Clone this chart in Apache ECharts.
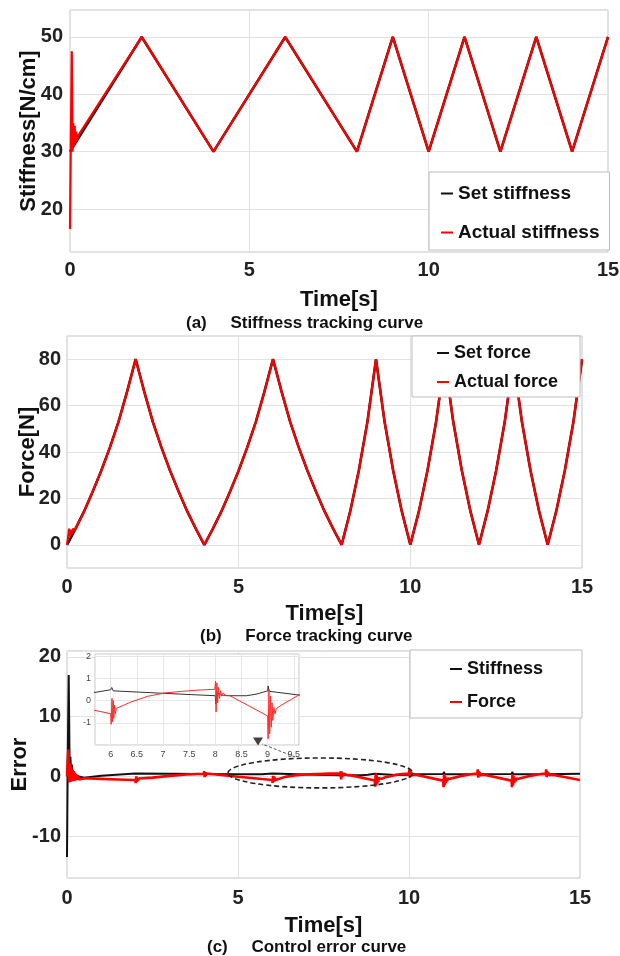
<!DOCTYPE html>
<html><head><meta charset="utf-8">
<script src="https://cdn.jsdelivr.net/npm/echarts@6/dist/echarts.min.js"></script>
<style>html,body{margin:0;padding:0;background:#fff}#c{width:620px;height:956px}</style>
</head><body><div id="c"></div>
<script>
// ---------- (a) stiffness tracking ----------
const stiffTime = [0, 2, 4, 6, 8, 9, 10, 11, 12, 13, 14, 15];
const setStiffness = [30, 50, 30, 50, 30, 50, 30, 50, 30, 50, 30, 50];
const actualStiffTime = [0, 0.02, 0.05, 0.07, 0.09, 0.11, 0.13, 0.15, 0.17, 0.19, 0.22, 0.26, 2, 4, 6, 8, 9, 10, 11, 12, 13, 14, 15];
const actualStiffness = [16.5, 30, 47.5, 30, 35, 31, 34.5, 31.5, 33.5, 31.8, 32.7, 32.6, 50, 30, 50, 30, 50, 30, 50, 30, 50, 30, 50];

// ---------- (b) force tracking ----------
const forceTime = [0, 0.25, 0.5, 0.75, 1, 1.25, 1.5, 1.75, 2, 2.25, 2.5, 2.75, 3, 3.25, 3.5, 3.75, 4,
  4.25, 4.5, 4.75, 5, 5.25, 5.5, 5.75, 6, 6.25, 6.5, 6.75, 7, 7.25, 7.5, 7.75, 8,
  8.25, 8.5, 8.75, 9, 9.25, 9.5, 9.75, 10, 10.25, 10.5, 10.75, 11, 11.25, 11.5, 11.75, 12,
  12.25, 12.5, 12.75, 13, 13.25, 13.5, 13.75, 14, 14.25, 14.5, 14.75, 15];
const setForce = [0, 7, 14.5, 23, 32, 42, 53, 66, 80, 66, 53, 42, 32, 23, 14.5, 7, 0,
  7, 14.5, 23, 32, 42, 53, 66, 80, 66, 53, 42, 32, 23, 14.5, 7, 0,
  14.5, 32, 53, 80, 53, 32, 14.5, 0, 14.5, 32, 53, 80, 53, 32, 14.5, 0,
  14.5, 32, 53, 80, 53, 32, 14.5, 0, 14.5, 32, 53, 80];
const actualForceHeadTime = [0, 0.03, 0.06, 0.09, 0.12, 0.15, 0.18, 0.21, 0.25];
const actualForceHead = [0, 3, 7, 3.5, 6.5, 4.5, 7, 6, 7];

// ---------- (c) control error ----------
const stiffErrTime = [0, 0.02, 0.05, 0.08, 0.1, 0.12, 0.14, 0.17, 0.2, 0.25, 0.35, 0.5, 1.0, 2.0, 2.02, 2.05, 3.0, 4.0, 4.02, 4.05, 5.0, 5.7, 6.0, 6.02, 6.05, 7.0, 8.0, 8.01, 8.02, 8.04, 8.06, 8.1, 8.3, 8.6, 8.8, 9.0, 9.01, 9.03, 9.6, 10.0, 10.02, 10.05, 11.0, 11.02, 11.05, 12.0, 12.02, 12.05, 13.0, 13.02, 13.05, 14.0, 14.02, 14.05, 15.0];
const stiffErr = [-13.5, 2, 17, 0, 3.3, 0.5, 2, 0.3, 0.8, 0.2, 0, -0.2, 0.1, 0.5, 0.7, 0.45, 0.45, 0.4, 0.6, 0.35, 0.35, 0.37, 0.49, 0.59, 0.44, 0.33, 0.22, -0.15, 0.4, 0.15, 0.35, 0.25, 0.22, 0.22, 0.3, 0.44, 0.66, 0.42, 0.25, 0.3, 0.7, 0.35, 0.4, 0.75, 0.35, 0.35, 0.65, 0.35, 0.4, 0.75, 0.35, 0.35, 0.65, 0.35, 0.45];
const forceErrTime = [0, 0.02, 0.04, 0.06, 0.08, 0.1, 0.12, 0.14, 0.16, 0.18, 0.2, 0.23, 0.26, 0.29, 0.32, 0.36, 0.4, 0.5, 1.0, 1.5,
  2.0, 2.01, 2.025, 2.04, 2.055, 2.07, 2.1, 2.15, 2.5, 3.0, 3.5,
  4.0, 4.01, 4.025, 4.04, 4.06, 4.08, 4.12, 5.0, 5.7,
  6.0, 6.01, 6.025, 6.035, 6.05, 6.06, 6.075, 6.09, 6.11, 6.13, 6.38, 6.7, 7.02, 7.33, 7.65,
  7.99, 8.005, 8.015, 8.03, 8.045, 8.06, 8.08, 8.1, 8.12, 8.15, 8.2, 8.28,
  9.0, 9.01, 9.025, 9.04, 9.055, 9.07, 9.085, 9.1, 9.12, 9.14, 9.17, 9.2, 9.3, 9.45, 9.6, 9.8,
  10.0, 10.01, 10.025, 10.04, 10.055, 10.07, 10.09, 10.12, 10.2,
  11.0, 11.01, 11.025, 11.04, 11.055, 11.07, 11.09, 11.11, 11.14, 11.2, 11.5, 11.8,
  12.0, 12.01, 12.025, 12.04, 12.055, 12.07, 12.09, 12.12, 12.2,
  13.0, 13.01, 13.025, 13.04, 13.055, 13.07, 13.09, 13.11, 13.14, 13.2, 13.5, 13.8,
  14.0, 14.01, 14.025, 14.04, 14.055, 14.07, 14.09, 14.12, 14.2, 15.0];
const forceErr = [0, 2.5, 4.5, -1, 2.2, -0.9, 1.6, -0.6, 1.1, -0.8, 0.8, -0.7, 0.4, -0.6, 0.1, -0.5, -0.2, -0.3, -0.4, -0.5,
  -0.6, -1.1, 0.0, -0.9, -0.2, -0.7, -0.35, -0.45, -0.2, 0.1, 0.32,
  0.45, 0.9, -0.1, 0.7, 0.1, 0.5, 0.3, -0.05, -0.44,
  -0.59, -1.07, 0.1, -0.95, 0.0, -0.8, -0.2, -0.6, -0.35, -0.4, -0.07, 0.19, 0.34, 0.41, 0.47,
  0.51, 0.88, -0.51, 0.8, -0.1, 0.6, 0.1, 0.45, 0.2, 0.35, 0.22, 0.22,
  -0.69, -1.72, 0.5, -1.5, 0.2, -1.2, -0.1, -0.9, -0.3, -0.6, -0.35, -0.4, -0.15, 0.05, 0.26, 0.42,
  0.5, 1.2, -0.2, 0.9, 0.0, 0.7, 0.2, 0.45, 0.3,
  -0.7, -1.8, 0.4, -1.5, 0.1, -1.1, -0.2, -0.8, -0.35, -0.4, 0.05, 0.38,
  0.5, 1.2, -0.2, 0.9, 0.0, 0.7, 0.2, 0.45, 0.3,
  -0.7, -1.8, 0.4, -1.5, 0.1, -1.1, -0.2, -0.8, -0.35, -0.4, 0.05, 0.38,
  0.5, 1.2, -0.1, 0.9, 0.1, 0.7, 0.2, 0.45, 0.3, -0.6];

// annotation (in error-chart data units)
const ellipseCenter = [7.41, 0.59];
const ellipseRadius = [2.70, 2.51];
const arrowFrom = [6.67, 3.26];
const arrowTo = [5.70, 5.44];
const arrowHead = [5.585, 5.86];

const xTicks = [0, 5, 10, 15];
const captions = ['(a)     Stiffness tracking curve', '(b)     Force tracking curve', '(c)     Control error curve'];

// ---------- build ----------
const FONT = "'Liberation Sans', Arial, Helvetica, sans-serif";
const INK = '#111';
const RED = '#ff0000';
const pairs = (t, v) => t.map((x, i) => [x, v[i]]);
const actualForce = pairs(actualForceHeadTime, actualForceHead)
  .concat(pairs(forceTime, setForce).filter(p => p[0] > actualForceHeadTime[actualForceHeadTime.length - 1]));

const grids = [
  {left: 70, top: 10, width: 538, height: 242},
  {left: 67, top: 336, width: 515, height: 232},
  {left: 67, top: 651, width: 513, height: 227},
  {left: 95, top: 654, width: 204, height: 91, z: 5}
].map(g => Object.assign({show: true, borderColor: '#c4c4c4', borderWidth: 1, backgroundColor: '#fff', containLabel: false, outerBoundsMode: 'none'}, g));

function mainX(i, gap, margin) {
  return {
    type: 'value', gridIndex: i, min: xTicks[0], max: xTicks[xTicks.length - 1], interval: xTicks[1] - xTicks[0],
    name: 'Time[s]', nameLocation: 'middle', nameGap: gap, nameMoveOverlap: false,
    nameTextStyle: {fontFamily: FONT, fontSize: 22, fontWeight: 'bold', color: INK},
    axisLine: {show: false}, axisTick: {show: false},
    axisLabel: {fontFamily: FONT, fontSize: 20, fontWeight: 'bold', color: '#222', margin: margin},
    splitLine: {show: true, lineStyle: {color: '#e2e2e2', width: 1}}
  };
}
function mainY(i, name, min, max, gap, margin) {
  return {
    type: 'value', gridIndex: i, min: min, max: max, splitNumber: 5,
    name: name, nameLocation: 'middle', nameGap: gap, nameMoveOverlap: false,
    nameTextStyle: {fontFamily: FONT, fontSize: 22, fontWeight: 'bold', color: INK},
    axisLine: {show: false}, axisTick: {show: false},
    axisLabel: {fontFamily: FONT, fontSize: 20, fontWeight: 'bold', color: '#222', margin: margin, showMinLabel: false, showMaxLabel: false},
    splitLine: {show: true, lineStyle: {color: '#e2e2e2', width: 1}}
  };
}

const xAxes = [mainX(0, 37, 8), mainX(1, 35, 9), mainX(2, 37, 10), {
  type: 'value', gridIndex: 3, min: 5.7, max: 9.6, splitNumber: 8, z: 6,
  axisLine: {show: false}, axisTick: {show: false},
  axisLabel: {fontFamily: FONT, fontSize: 9, color: '#444', margin: 5, showMinLabel: false, showMaxLabel: false},
  splitLine: {show: true, lineStyle: {color: '#e6e6e6', width: 1}}
}];
const yAxes = [mainY(0, 'Stiffness[N/cm]', 12.5, 54.7, 30, 7), mainY(1, 'Force[N]', -10, 90, 28, 6), mainY(2, 'Error', -17, 21, 36, 6), {
  type: 'value', gridIndex: 3, min: -2, max: 2.1, splitNumber: 4, z: 6,
  axisLine: {show: false}, axisTick: {show: false},
  axisLabel: {fontFamily: FONT, fontSize: 9, color: '#444', margin: 4, showMinLabel: false, showMaxLabel: false},
  splitLine: {show: true, lineStyle: {color: '#e6e6e6', width: 1}}
}];

function line(name, data, xi, color, width, z) {
  return {type: 'line', name: name, xAxisIndex: xi, yAxisIndex: xi, data: data, showSymbol: false, symbol: 'none',
    lineStyle: {color: color, width: width}, itemStyle: {color: color}, z: z || 2, clip: true, silent: true};
}

const series = [
  line('Set stiffness', pairs(stiffTime, setStiffness), 0, INK, 2.6),
  line('Actual stiffness', pairs(actualStiffTime, actualStiffness), 0, RED, 2.2),
  line('Set force', pairs(forceTime, setForce), 1, INK, 2.6),
  line('Actual force', actualForce, 1, RED, 2.2),
  line('Stiffness', pairs(stiffErrTime, stiffErr), 2, INK, 2),
  line('Force', pairs(forceErrTime, forceErr), 2, RED, 2.6),
  line('Stiffness (inset)', pairs(stiffErrTime, stiffErr), 3, '#333', 1, 7),
  line('Force (inset)', pairs(forceErrTime, forceErr), 3, '#ff2a2a', 1, 7),
  {
    type: 'custom', name: 'zoom region', xAxisIndex: 2, yAxisIndex: 2, z: 10, silent: true,
    data: [[ellipseCenter[0], ellipseCenter[1], ellipseRadius[0], ellipseRadius[1]]],
    renderItem: function (params, api) {
      const c = api.coord([api.value(0), api.value(1)]);
      const e = api.coord([api.value(0) + api.value(2), api.value(1) + api.value(3)]);
      return {type: 'ellipse', shape: {cx: c[0], cy: c[1], rx: e[0] - c[0], ry: c[1] - e[1]},
        style: {fill: null, stroke: '#222', lineWidth: 1.6, lineDash: [5, 3]}};
    }
  },
  {type: 'line', name: 'pointer', xAxisIndex: 2, yAxisIndex: 2, z: 10, silent: true, symbol: 'none', clip: false,
    data: [arrowFrom, arrowTo], lineStyle: {color: '#555', width: 1, type: [3, 2]}},
  {type: 'scatter', name: 'pointer head', xAxisIndex: 2, yAxisIndex: 2, z: 10, silent: true, clip: false,
    data: [arrowHead], symbol: 'triangle', symbolRotate: 180, symbolSize: [10, 8], itemStyle: {color: '#111'}}
];

const legendBase = {orient: 'vertical', icon: 'rect', itemWidth: 12, itemHeight: 2, selectedMode: false,
  backgroundColor: '#fff', borderColor: '#bdbdbd', borderWidth: 1, borderRadius: 0};
const legends = [
  Object.assign({}, legendBase, {data: ['Set stiffness', 'Actual stiffness'], left: 429, top: 172, padding: [12, 10, 8, 12], itemGap: 20,
    textStyle: {fontFamily: FONT, fontSize: 19, fontWeight: 'bold', color: INK}}),
  Object.assign({}, legendBase, {data: ['Set force', 'Actual force'], left: 412, top: 336, padding: [8, 22, 6, 25], itemGap: 11,
    textStyle: {fontFamily: FONT, fontSize: 18, fontWeight: 'bold', color: INK}}),
  Object.assign({}, legendBase, {data: ['Stiffness', 'Force'], left: 410, top: 650, padding: [10, 39, 7, 40], itemGap: 15,
    textStyle: {fontFamily: FONT, fontSize: 18, fontWeight: 'bold', color: INK}})
];

const titles = [
  {text: captions[0], left: 186, top: 315},
  {text: captions[1], left: 200, top: 628},
  {text: captions[2], left: 207, top: 939}
].map(t => Object.assign({padding: 0, textStyle: {fontFamily: FONT, fontSize: 17, fontWeight: 'bold', color: INK}}, t));

const chart = echarts.init(document.getElementById('c'), null, {renderer: 'canvas'});
chart.setOption({
  animation: false,
  backgroundColor: '#fff',
  title: titles,
  legend: legends,
  grid: grids,
  xAxis: xAxes,
  yAxis: yAxes,
  series: series
});
</script></body></html>
